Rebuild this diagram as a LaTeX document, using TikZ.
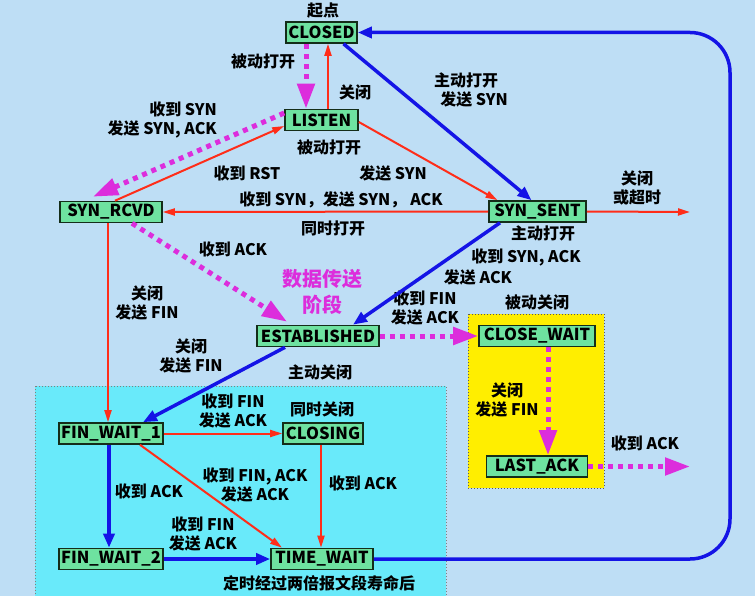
\documentclass[tikz,border=0pt]{standalone}
\usepackage{fontspec}
\setmainfont{Noto Sans CJK SC}
\usetikzlibrary{arrows.meta}
\definecolor{bgc}{RGB}{190,222,245}
\definecolor{cyanbox}{RGB}{105,234,250}
\definecolor{yellowbox}{RGB}{255,238,0}
\definecolor{nodefill}{RGB}{110,226,160}
\definecolor{nodeline}{RGB}{20,45,25}
\definecolor{mag}{RGB}{220,45,220}
\definecolor{redc}{RGB}{255,45,25}
\definecolor{bluec}{RGB}{20,20,230}
\tikzset{
  state/.style={draw=nodeline, line width=1.6pt, fill=nodefill, minimum height=21pt,
    inner xsep=2pt, inner ysep=0pt, font=\fontsize{16.5}{18}\selectfont\bfseries},
  lbl/.style={font=\fontsize{16}{19.5}\selectfont\bfseries, align=center, inner sep=0pt},
  redarr/.style={draw=redc, line width=2pt, -{Triangle[length=12pt,width=7pt]}, color=redc},
  bluearr/.style={draw=bluec, line width=3.5pt, -{Triangle[length=14pt,width=11pt]}, color=bluec},
  magarr/.style={draw=mag, line width=5pt, dash pattern=on 5pt off 5pt, -{Triangle[length=25pt,width=17pt]}, color=mag},
}
\begin{document}
\begin{tikzpicture}[x=1pt,y=-1pt]
\useasboundingbox (0,0) rectangle (755,596);
\fill[bgc] (0,0) rectangle (755,596);
\draw[fill=cyanbox, draw=gray, dotted, line width=1pt] (35,386) rectangle (446,600);
\draw[fill=yellowbox, draw=gray!70!black, dotted, line width=1pt] (468,314) rectangle (604,488);

% states
\node[state, minimum width=71pt] (CLOSED) at (321.5,32.5) {CLOSED};
\node[state, minimum width=73pt] (LISTEN) at (321.5,120) {LISTEN};
\node[state, minimum width=102pt] (RCVD) at (111,212) {SYN\_RCVD};
\node[state, minimum width=97pt] (SENT) at (537.5,211.5) {SYN\_SENT};
\node[state, minimum width=122pt] (EST) at (318,336) {ESTABLISHED};
\node[state, minimum width=116pt] (CW) at (537,336) {CLOSE\_WAIT};
\node[state, minimum width=102pt] (FW1) at (111,433.5) {FIN\_WAIT\_1};
\node[state, minimum width=80pt] (CLOSING) at (323,433.5) {CLOSING};
\node[state, minimum width=102pt] (FW2) at (111,559) {FIN\_WAIT\_2};
\node[state, minimum width=102pt] (TW) at (322,559) {TIME\_WAIT};
\node[state, minimum width=101pt] (LA) at (537,466.5) {LAST\_ACK};

\coordinate (sentout) at (690,212);
\coordinate (laout) at (690,466.5);
\coordinate (c1) at (730,559);
\coordinate (c2) at (730,32.5);

% labels
\node[lbl] (l0) at (323,11) {起点};
\node[lbl] (l1) at (263,61) {被动打开};
\node[lbl] (l2) at (355,92) {关闭};
\node[lbl, align=right, anchor=east] (l3) at (217,120) {收到 SYN\\发送 SYN, ACK};
\node[lbl] (l4) at (329,147) {被动打开};
\node[lbl] (l5) at (247,173) {收到 RST};
\node[lbl] (l6) at (393,173) {发送 SYN};
\node[lbl] (l7) at (466,90) {主动打开\\\hspace*{16pt}发送 SYN};
\node[lbl] (l8) at (341,200) {收到 SYN，发送 SYN，\hspace{4pt}ACK};
\node[lbl] (l9) at (333,228) {同时打开};
\node[lbl] (l10) at (637,188) {关闭\\或超时};
\node[lbl] (l11) at (543,233) {主动打开};
\node[lbl] (l12) at (526,257) {收到 SYN, ACK};
\node[lbl] (l13) at (478,277) {发送 ACK};
\node[lbl] (l14) at (233,249) {收到 ACK};
\node[lbl, text=mag, font=\fontsize{20}{26}\selectfont\bfseries] (l15) at (322,292) {数据传送\\阶段};
\node[lbl] (l16) at (147,303) {关闭\\发送 FIN};
\node[lbl] (l17) at (425,308) {收到 FIN\\发送 ACK};
\node[lbl] (l18) at (537,302) {被动关闭};
\node[lbl] (l19) at (191,356) {关闭\\发送 FIN};
\node[lbl] (l20) at (320,372) {主动关闭};
\node[lbl] (l21) at (507,400) {关闭\\发送 FIN};
\node[lbl] (l22) at (645,443) {收到 ACK};
\node[lbl] (l23) at (233,411) {收到 FIN\\发送 ACK};
\node[lbl] (l24) at (322,409) {同时关闭};
\node[lbl] (l25) at (363,483) {收到 ACK};
\node[lbl] (l26) at (255,485) {收到 FIN, ACK\\发送 ACK};
\node[lbl] (l27) at (149,491) {收到 ACK};
\node[lbl] (l28) at (203,534) {收到 FIN\\发送 ACK};
\node[lbl] (l29) at (319,583) {定时经过两倍报文段寿命后};

% connectors
\draw[magarr] ([xshift=-15.5pt]CLOSED.south) -- ([xshift=-15.5pt]LISTEN.north);
\draw[redarr] ([xshift=6.5pt]LISTEN.north) -- ([xshift=6.5pt]CLOSED.south);
\draw[magarr] ([yshift=7pt]LISTEN.west) -- ([xshift=-18pt,yshift=4pt]RCVD.north);
\draw[redarr] ([xshift=4pt]RCVD.north) -- ([yshift=-6pt]LISTEN.west);
\draw[redarr] ([yshift=-2pt]LISTEN.east) -- ([xshift=-40pt]SENT.north);
\draw[bluearr] ([xshift=22pt]CLOSED.south) -- ([xshift=-6pt]SENT.north);
\draw[redarr] (SENT.west) -- (RCVD.east);
\draw[redarr] (SENT.east) -- (sentout);
\draw[magarr] ([xshift=21pt]RCVD.south) -- ([xshift=-31pt,yshift=3pt]EST.north);
\draw[bluearr] ([xshift=-37.5pt]SENT.south) -- ([xshift=35pt]EST.north);
\draw[redarr] ([xshift=-3pt]RCVD.south) -- ([xshift=-3pt]FW1.north);
\draw[bluearr] ([xshift=-33pt]EST.south) -- ([xshift=32pt]FW1.north);
\draw[magarr] (EST.east) -- (CW.west);
\draw[magarr] ([xshift=11pt]CW.south) -- ([xshift=11pt]LA.north);
\draw[magarr] (LA.east) -- (laout);
\draw[redarr] (FW1.east) -- (CLOSING.west);
\draw[redarr] ([xshift=-2pt]CLOSING.south) -- ([xshift=-1pt]TW.north);
\draw[redarr] ([xshift=29pt]FW1.south) -- ([xshift=-40pt]TW.north);
\draw[bluearr] ([xshift=-2pt]FW1.south) -- ([xshift=-2pt]FW2.north);
\draw[bluearr] (FW2.east) -- (TW.west);
\draw[bluearr, rounded corners=40pt] (TW.east) -- (c1) -- (c2) -- (CLOSED.east);
\end{tikzpicture}
\end{document}
